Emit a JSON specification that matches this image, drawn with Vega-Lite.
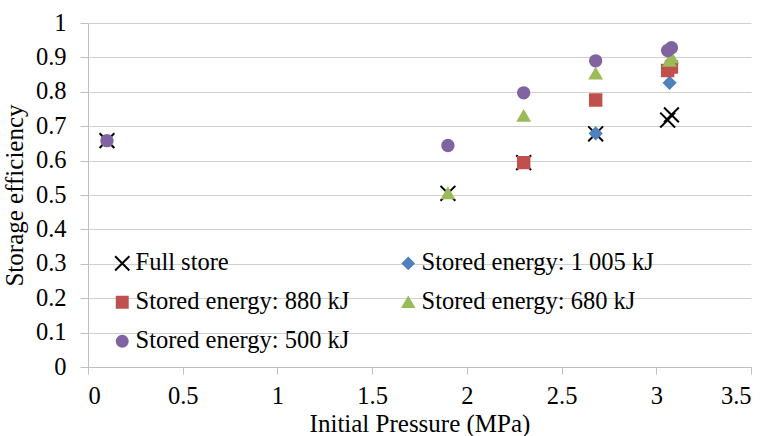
{
  "$schema": "https://vega.github.io/schema/vega-lite/v6.json",
  "autosize": "none",
  "width": 663,
  "height": 344,
  "padding": {"left": 88, "top": 23, "right": 17, "bottom": 69},
  "background": "white",
  "data": {"values": [
    {"p": 0.1, "e": 0.658, "s": "Full store"},
    {"p": 1.9, "e": 0.505, "s": "Full store"},
    {"p": 2.3, "e": 0.594, "s": "Full store"},
    {"p": 2.68, "e": 0.678, "s": "Full store"},
    {"p": 3.06, "e": 0.718, "s": "Full store"},
    {"p": 3.08, "e": 0.733, "s": "Full store"},
    {"p": 2.68, "e": 0.679, "s": "Stored energy: 1 005 kJ"},
    {"p": 3.07, "e": 0.826, "s": "Stored energy: 1 005 kJ"},
    {"p": 2.3, "e": 0.594, "s": "Stored energy: 880 kJ"},
    {"p": 2.68, "e": 0.776, "s": "Stored energy: 880 kJ"},
    {"p": 3.06, "e": 0.862, "s": "Stored energy: 880 kJ"},
    {"p": 3.08, "e": 0.872, "s": "Stored energy: 880 kJ"},
    {"p": 1.9, "e": 0.505, "s": "Stored energy: 680 kJ"},
    {"p": 2.3, "e": 0.73, "s": "Stored energy: 680 kJ"},
    {"p": 2.68, "e": 0.853, "s": "Stored energy: 680 kJ"},
    {"p": 3.07, "e": 0.89, "s": "Stored energy: 680 kJ"},
    {"p": 3.08, "e": 0.9, "s": "Stored energy: 680 kJ"},
    {"p": 0.1, "e": 0.658, "s": "Stored energy: 500 kJ"},
    {"p": 1.9, "e": 0.644, "s": "Stored energy: 500 kJ"},
    {"p": 2.3, "e": 0.797, "s": "Stored energy: 500 kJ"},
    {"p": 2.68, "e": 0.89, "s": "Stored energy: 500 kJ"},
    {"p": 3.06, "e": 0.92, "s": "Stored energy: 500 kJ"},
    {"p": 3.08, "e": 0.928, "s": "Stored energy: 500 kJ"}
  ]},
  "mark": {"type": "point", "size": 130, "strokeWidth": 2, "opacity": 1},
  "encoding": {
    "x": {"field": "p", "type": "quantitative", "title": "Initial Pressure (MPa)",
      "scale": {"domain": [0, 3.5], "nice": false},
      "axis": {"values": [0, 0.5, 1, 1.5, 2, 2.5, 3, 3.5], "format": "~g", "grid": false,
        "domainColor": "#bfbfbf", "tickColor": "#bfbfbf", "tickSize": 7, "labelPadding": 10,
        "labelFont": "Liberation Serif", "labelFontSize": 24.5, "labelColor": "black",
        "titleFont": "Liberation Serif", "titleFontSize": 25, "titleFontWeight": "normal", "titleColor": "black", "titlePadding": 4}},
    "y": {"field": "e", "type": "quantitative", "title": "Storage efficiency",
      "scale": {"domain": [0, 1], "nice": false},
      "axis": {"values": [0, 0.1, 0.2, 0.3, 0.4, 0.5, 0.6, 0.7, 0.8, 0.9, 1], "format": "~g",
        "grid": true, "gridColor": "#d0d0d0", "domainColor": "#bfbfbf", "tickColor": "#bfbfbf", "tickSize": 8, "labelPadding": 14,
        "labelFont": "Liberation Serif", "labelFontSize": 24.5, "labelColor": "black",
        "titleFont": "Liberation Serif", "titleFontSize": 25, "titleFontWeight": "normal", "titleColor": "black", "titlePadding": 8}},
    "shape": {"field": "s", "type": "nominal", "sort": null, "title": null,
      "scale": {"domain": ["Full store", "Stored energy: 1 005 kJ", "Stored energy: 880 kJ", "Stored energy: 680 kJ", "Stored energy: 500 kJ"],
        "range": ["M-1.3,-1.3L1.3,1.3M1.3,-1.3L-1.3,1.3", "diamond", "square", "triangle-up", "circle"]}},
    "fill": {"field": "s", "type": "nominal", "sort": null, "title": null,
      "scale": {"domain": ["Full store", "Stored energy: 1 005 kJ", "Stored energy: 880 kJ", "Stored energy: 680 kJ", "Stored energy: 500 kJ"],
        "range": ["black", "#4F81BD", "#C0504D", "#9BBB59", "#8064A2"]}},
    "stroke": {"field": "s", "type": "nominal", "sort": null, "title": null,
      "scale": {"domain": ["Full store", "Stored energy: 1 005 kJ", "Stored energy: 880 kJ", "Stored energy: 680 kJ", "Stored energy: 500 kJ"],
        "range": ["black", "#4F81BD", "#C0504D", "#9BBB59", "#8064A2"]}}
  },
  "config": {
    "view": {"stroke": null},
    "legend": {
      "orient": "none", "legendX": 22, "legendY": 228, "columns": 2, "direction": "horizontal", "columnPadding": 46,
      "rowPadding": 14, "symbolSize": 120, "symbolStrokeWidth": 2, "symbolOffset": 0,
      "labelFont": "Liberation Serif", "labelFontSize": 24.5, "labelColor": "black", "labelLimit": 400, "labelOffset": 1
    }
  }
}
